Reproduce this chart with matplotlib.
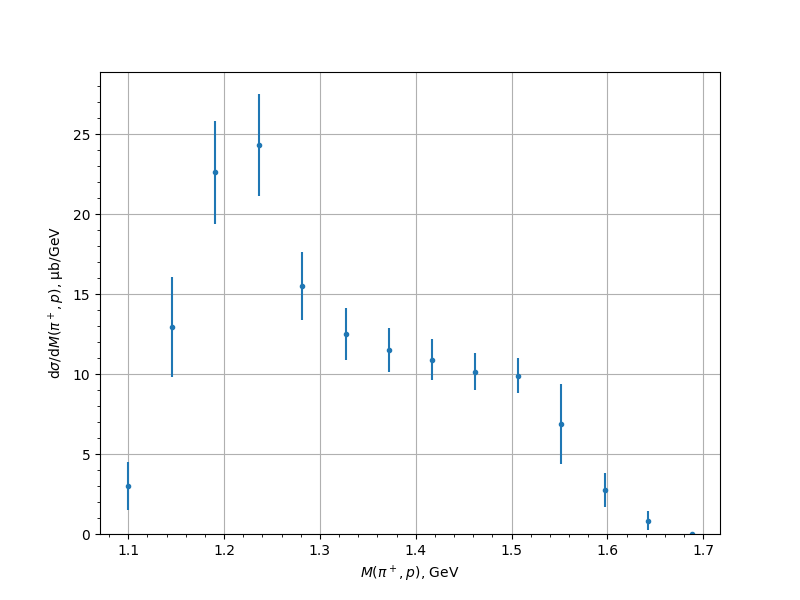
import numpy as np
import matplotlib
matplotlib.use('Agg')
import matplotlib.pyplot as plt

# bin centres of M(pi+, p), GeV
mass = [1.100, 1.146, 1.191, 1.236, 1.281, 1.327, 1.372,
        1.417, 1.462, 1.507, 1.552, 1.597, 1.642, 1.688]
# differential cross section, ub/GeV
xsec = [3.0, 12.95, 22.6, 24.3, 15.5, 12.5, 11.5,
        10.9, 10.15, 9.9, 6.9, 2.75, 0.82, 0.0]
xsec_err = [1.47, 3.12, 3.2, 3.2, 2.1, 1.65, 1.4,
            1.3, 1.15, 1.1, 2.5, 1.05, 0.6, 0.0]


def plot_xsec():
    fig, ax = plt.subplots(figsize=(8, 6), dpi=100)
    ax.errorbar(mass, xsec, yerr=xsec_err, fmt='.')
    ax.set_ylim(bottom=0)
    ax.minorticks_on()
    ax.grid()
    ax.set_xlabel(r'$M(\pi^+, p)$, GeV')
    ax.set_ylabel(r'd$\sigma$/d$M(\pi^+, p)$, μb/GeV')
    fig.savefig('out.png')


if __name__ == "__main__":
    plot_xsec()
